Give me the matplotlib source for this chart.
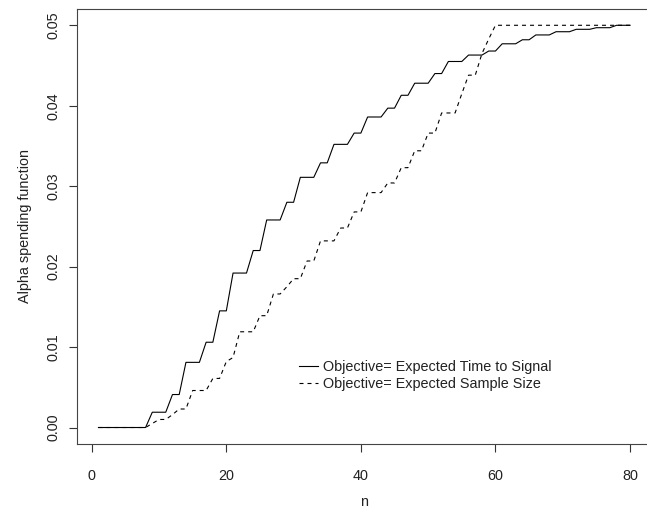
import matplotlib
matplotlib.use("Agg")
import matplotlib.pyplot as plt
import numpy as np

plt.rcParams['font.family'] = ['Liberation Sans', 'DejaVu Sans']

n = np.arange(1, 81)

# objective = expected time to signal (solid)
time_to_signal = (
    [0.0] * 8 + [0.0019] * 3 + [0.0041] * 2 + [0.0081] * 3 + [0.0106] * 2
    + [0.0145] * 2 + [0.0192] * 3 + [0.0220] * 2 + [0.0258] * 3 + [0.0280] * 2
    + [0.0311] * 3 + [0.0329] * 2 + [0.0352] * 3 + [0.0366] * 2 + [0.0386] * 3
    + [0.0397] * 2 + [0.0413] * 2 + [0.0428] * 3 + [0.0440] * 2 + [0.0455] * 3
    + [0.0463] * 3 + [0.0468] * 2 + [0.0477] * 3 + [0.0482] * 2 + [0.0488] * 3
    + [0.0492] * 3 + [0.0495] * 3 + [0.0497] * 3 + [0.0500] * 3
)

# objective = expected sample size (dashed)
sample_size = (
    [0.0] * 8 + [0.0005] + [0.0010] * 2 + [0.0016] + [0.0023] * 2
    + [0.0046] * 3 + [0.0061] * 2 + [0.0082] + [0.0087] + [0.0119] * 3
    + [0.0139] * 2 + [0.0166] * 2 + [0.0175] + [0.0185] * 2 + [0.0207] * 2
    + [0.0232] * 3 + [0.0248] * 2 + [0.0268] * 2 + [0.0292] * 3 + [0.0304] * 2
    + [0.0323] * 2 + [0.0344] * 2 + [0.0366] * 2 + [0.0391] * 3 + [0.0415]
    + [0.0438] * 2 + [0.0465] + [0.0483] + [0.0500] * 21
)

labels = ["Objective= Expected Time to Signal", "Objective= Expected Sample Size"]
xticks = [0, 20, 40, 60, 80]
yticks = [0.00, 0.01, 0.02, 0.03, 0.04, 0.05]

fs = 10.4
W, H = 647, 513
fig = plt.figure(figsize=(W / 100, H / 100), dpi=100)
# plot box runs past the right edge of the picture, as in the original
ax = fig.add_axes([77.2 / W, 1 - 443.6 / H, 574.1 / W, 434.4 / H])

ax.plot(n, time_to_signal, color="black", lw=0.8, label=labels[0])
ax.plot(n, sample_size, color="black", lw=0.8, dashes=(3.6, 3.6), label=labels[1])

ax.set_xlim(-2.16, 83.16)
ax.set_ylim(-0.002, 0.052)
ax.set_xticks(xticks)
ax.set_yticks(yticks)
ax.set_xticklabels([str(t) for t in xticks], fontsize=fs, color="#222222")
ax.set_yticklabels([f"{t:.2f}" for t in yticks], fontsize=fs, color="#222222",
                   rotation=90, va="center")
ax.tick_params(axis="both", direction="out", length=6.1, width=0.8, color="#333333")
ax.tick_params(axis="x", pad=12)
ax.tick_params(axis="y", pad=6.2)

for s in ax.spines.values():
    s.set_color("#444444")
    s.set_linewidth(0.8)

ax.set_xlabel("n", fontsize=fs, color="#222222", labelpad=9)
ax.set_ylabel("Alpha spending function", fontsize=fs, color="#222222", labelpad=10)

ax.legend(loc="upper left", bbox_to_anchor=(299 / W, 1 - 360 / H),
          bbox_transform=fig.transFigure, frameon=False, fontsize=fs,
          borderpad=0, borderaxespad=0, handlelength=1.3, handletextpad=0.35,
          labelspacing=0.22, labelcolor="#222222")

fig.savefig("out.png", dpi=100)
